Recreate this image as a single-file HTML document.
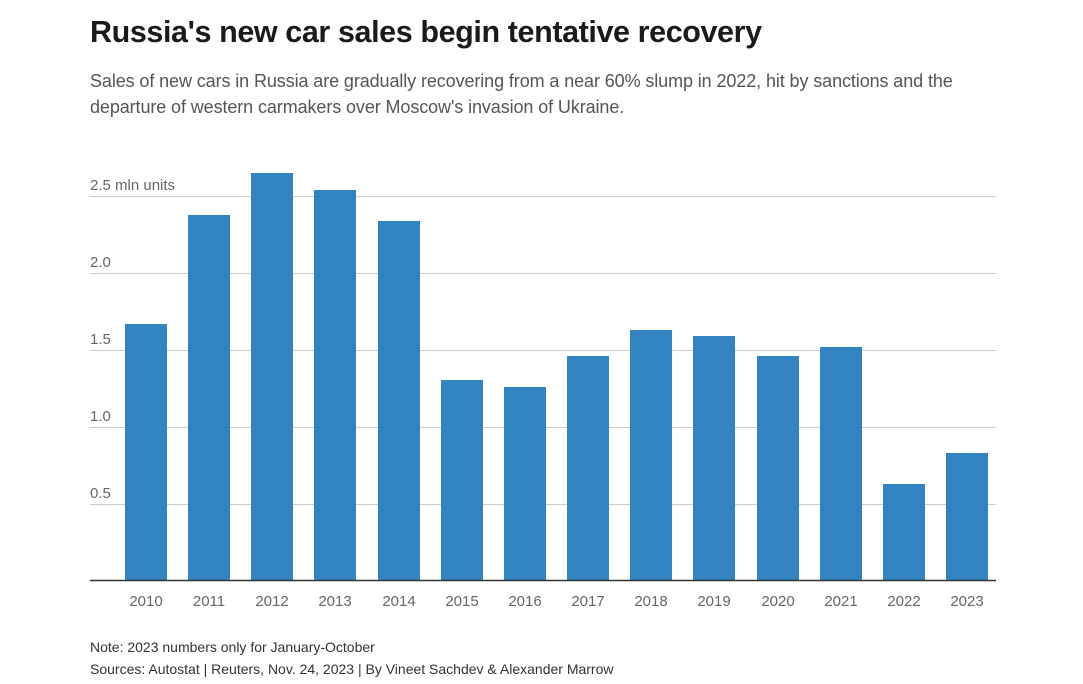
<!DOCTYPE html>
<html><head><meta charset="utf-8"><style>
body{margin:0;width:1083px;height:684px;background:#fff;font-family:"Liberation Sans",sans-serif;overflow:hidden;position:relative}
.t{position:absolute;left:90px;top:15px;font-size:30.5px;font-weight:bold;color:#1a1a1a;letter-spacing:-0.4px}
.s{position:absolute;left:90px;top:68px;font-size:18px;line-height:26px;color:#555;width:920px;letter-spacing:-0.1px}
.n{position:absolute;left:90px;font-size:14px;color:#333}
</style></head><body>
<div class="t">Russia's new car sales begin tentative recovery</div>
<div class="s">Sales of new cars in Russia are gradually recovering from a near 60% slump in 2022, hit by sanctions and the departure of western carmakers over Moscow's invasion of Ukraine.</div>
<svg width="1083" height="684" style="position:absolute;left:0;top:0" font-family="Liberation Sans, sans-serif">
<g stroke="#ccc" stroke-width="1">
<line x1="90" x2="996" y1="196.5" y2="196.5"/><line x1="90" x2="996" y1="273.5" y2="273.5"/>
<line x1="90" x2="996" y1="350.5" y2="350.5"/><line x1="90" x2="996" y1="427.5" y2="427.5"/>
<line x1="90" x2="996" y1="504.5" y2="504.5"/></g>
<g font-size="15" fill="#666">
<text x="90" y="190">2.5 mln units</text><text x="90" y="267">2.0</text><text x="90" y="344">1.5</text>
<text x="90" y="421">1.0</text><text x="90" y="498">0.5</text></g>
<g fill="#3184c0">
<rect x="125" y="324" width="42" height="256"/>
<rect x="188" y="215" width="42" height="365"/>
<rect x="251" y="173" width="42" height="407"/>
<rect x="314" y="190" width="42" height="390"/>
<rect x="378" y="221" width="42" height="359"/>
<rect x="441" y="380" width="42" height="200"/>
<rect x="504" y="387" width="42" height="193"/>
<rect x="567" y="356" width="42" height="224"/>
<rect x="630" y="330" width="42" height="250"/>
<rect x="693" y="336" width="42" height="244"/>
<rect x="757" y="356" width="42" height="224"/>
<rect x="820" y="347" width="42" height="233"/>
<rect x="883" y="484" width="42" height="96"/>
<rect x="946" y="453" width="42" height="127"/>
</g>
<line x1="90" x2="996" y1="580.5" y2="580.5" stroke="#333" stroke-width="1.5"/>
<g font-size="15" fill="#666" text-anchor="middle">
<text x="146" y="606">2010</text><text x="209" y="606">2011</text><text x="272" y="606">2012</text>
<text x="335" y="606">2013</text><text x="399" y="606">2014</text><text x="462" y="606">2015</text>
<text x="525" y="606">2016</text><text x="588" y="606">2017</text><text x="651" y="606">2018</text>
<text x="714" y="606">2019</text><text x="778" y="606">2020</text><text x="841" y="606">2021</text>
<text x="904" y="606">2022</text><text x="967" y="606">2023</text></g>
</svg>
<div class="n" style="top:639px">Note: 2023 numbers only for January-October</div>
<div class="n" style="top:661px">Sources: Autostat | Reuters, Nov. 24, 2023 | By Vineet Sachdev &amp; Alexander Marrow</div>
</body></html>
